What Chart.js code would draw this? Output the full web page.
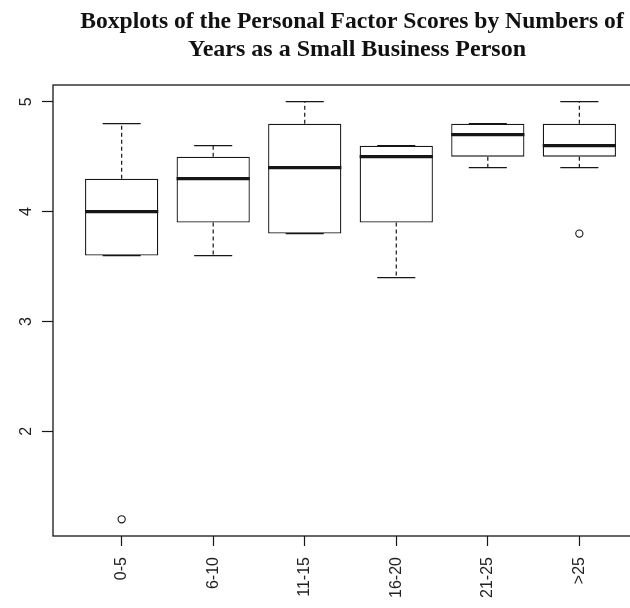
<!DOCTYPE html>
<html>
<head>
<meta charset="utf-8">
<script src="https://cdn.jsdelivr.net/npm/chart.js@4/dist/chart.umd.min.js"></script>
<style>
  html, body { margin: 0; padding: 0; background: #fff; overflow: hidden; width: 630px; height: 608px; }
  #wrap { position: relative; width: 660px; height: 608px; }
  canvas { display: block; }
</style>
</head>
<body>
<div id="wrap"><canvas id="c" width="660" height="608"></canvas></div>
<script>
// Five-number summaries per experience group
const categories = ['0-5', '6-10', '11-15', '16-20', '21-25', '>25'];
const whiskerLow = [3.6, 3.6, 3.8, 3.4, 4.4, 4.4];
const lowerQuartile = [3.6, 3.9, 3.8, 3.9, 4.5, 4.5];
const medians = [4.0, 4.3, 4.4, 4.5, 4.7, 4.6];
const upperQuartile = [4.3, 4.5, 4.8, 4.6, 4.8, 4.8];
const whiskerHigh = [4.8, 4.6, 5.0, 4.6, 4.8, 5.0];
// Points beyond the whiskers
const outlierGroup = ['0-5', '>25'];
const outlierValue = [1.2, 3.8];
const yTicks = [2, 3, 4, 5];
const titleLines = [
  'Boxplots of the Personal Factor Scores by Numbers of',
  'Years as a Small Business Person'
];

const INK = '#161616';

// Whiskers, staples and median bars on top of the box rectangles
const boxDetails = {
  id: 'boxDetails',
  afterDatasetsDraw(chart) {
    const { ctx, scales: { y } } = chart;
    const meta = chart.getDatasetMeta(0);
    const seg = (x1, y1, x2, y2) => { ctx.beginPath(); ctx.moveTo(x1, y1); ctx.lineTo(x2, y2); ctx.stroke(); };
    ctx.save();
    ctx.strokeStyle = INK;
    categories.forEach((c, i) => {
      const bar = meta.data[i];
      const cx = bar.x;
      const half = bar.width / 2;
      const staple = half * 0.52;
      const yQ1 = y.getPixelForValue(lowerQuartile[i]);
      const yQ3 = y.getPixelForValue(upperQuartile[i]);
      const yLo = y.getPixelForValue(whiskerLow[i]);
      const yHi = y.getPixelForValue(whiskerHigh[i]);
      const yMed = y.getPixelForValue(medians[i]);
      ctx.lineWidth = 1.2;
      ctx.setLineDash([4, 3]);
      if (yHi < yQ3) seg(cx, yQ3, cx, yHi);
      if (yLo > yQ1) seg(cx, yQ1, cx, yLo);
      ctx.setLineDash([]);
      ctx.lineWidth = 1.3;
      seg(cx - staple, yHi, cx + staple, yHi);
      seg(cx - staple, yLo, cx + staple, yLo);
      ctx.lineWidth = 3.2;
      seg(cx - half, yMed, cx + half, yMed);
    });
    ctx.restore();
  }
};

// Plot frame and two-line heading
const frameAndTitle = {
  id: 'frameAndTitle',
  afterDraw(chart) {
    const { ctx, chartArea: a } = chart;
    ctx.save();
    ctx.strokeStyle = INK;
    ctx.lineWidth = 1.3;
    ctx.strokeRect(a.left, a.top, a.right - a.left, a.bottom - a.top);
    ctx.fillStyle = '#111';
    ctx.textAlign = 'center';
    ctx.textBaseline = 'alphabetic';
    ctx.font = 'bold 23.6px "Liberation Serif", "Times New Roman", serif';
    ctx.fillText(titleLines[0], 352, 28);
    ctx.font = 'bold 24px "Liberation Serif", "Times New Roman", serif';
    ctx.fillText(titleLines[1], 357, 56);
    ctx.restore();
  }
};

const tickFont = { family: '"Liberation Sans", Arial, sans-serif', size: 16 };

new Chart(document.getElementById('c'), {
  data: {
    datasets: [
      {
        type: 'bar',
        data: categories.map((c, i) => ({ x: i + 1, y: [lowerQuartile[i], upperQuartile[i]] })),
        backgroundColor: '#ffffff',
        borderColor: INK,
        borderWidth: 1.3,
        borderSkipped: false,
        categoryPercentage: 1,
        barPercentage: 0.8
      },
      {
        type: 'scatter',
        data: outlierGroup.map((g, k) => ({ x: categories.indexOf(g) + 1, y: outlierValue[k] })),
        pointStyle: 'circle',
        radius: 3.6,
        backgroundColor: '#ffffff',
        borderColor: INK,
        borderWidth: 1.1
      }
    ]
  },
  options: {
    responsive: false,
    animation: false,
    devicePixelRatio: 1,
    layout: { padding: { top: 85, right: 12, left: 0, bottom: 0 } },
    plugins: { legend: { display: false }, tooltip: { enabled: false }, title: { display: false } },
    scales: {
      x: {
        type: 'linear',
        min: 0.25,
        max: 6.75,
        offset: false,
        afterBuildTicks: s => { s.ticks = categories.map((c, i) => ({ value: i + 1 })); },
        afterFit: s => { s.height = 72; },
        ticks: {
          callback: (v, i) => categories[i],
          minRotation: 90,
          maxRotation: 90,
          autoSkip: false,
          padding: 11,
          color: '#222',
          font: tickFont
        },
        grid: { drawOnChartArea: false, offset: false, tickLength: 10, tickWidth: 1.2, tickColor: INK },
        border: { display: false }
      },
      y: {
        type: 'linear',
        min: 1.048,
        max: 5.152,
        afterBuildTicks: s => { s.ticks = yTicks.map(v => ({ value: v })); },
        afterFit: s => { s.width = 53; },
        ticks: {
          minRotation: 90,
          maxRotation: 90,
          crossAlign: 'center',
          padding: 11,
          color: '#222',
          font: tickFont
        },
        grid: { drawOnChartArea: false, tickLength: 11, tickWidth: 1.2, tickColor: INK },
        border: { display: false }
      }
    }
  },
  plugins: [boxDetails, frameAndTitle]
});
</script>
</body>
</html>
